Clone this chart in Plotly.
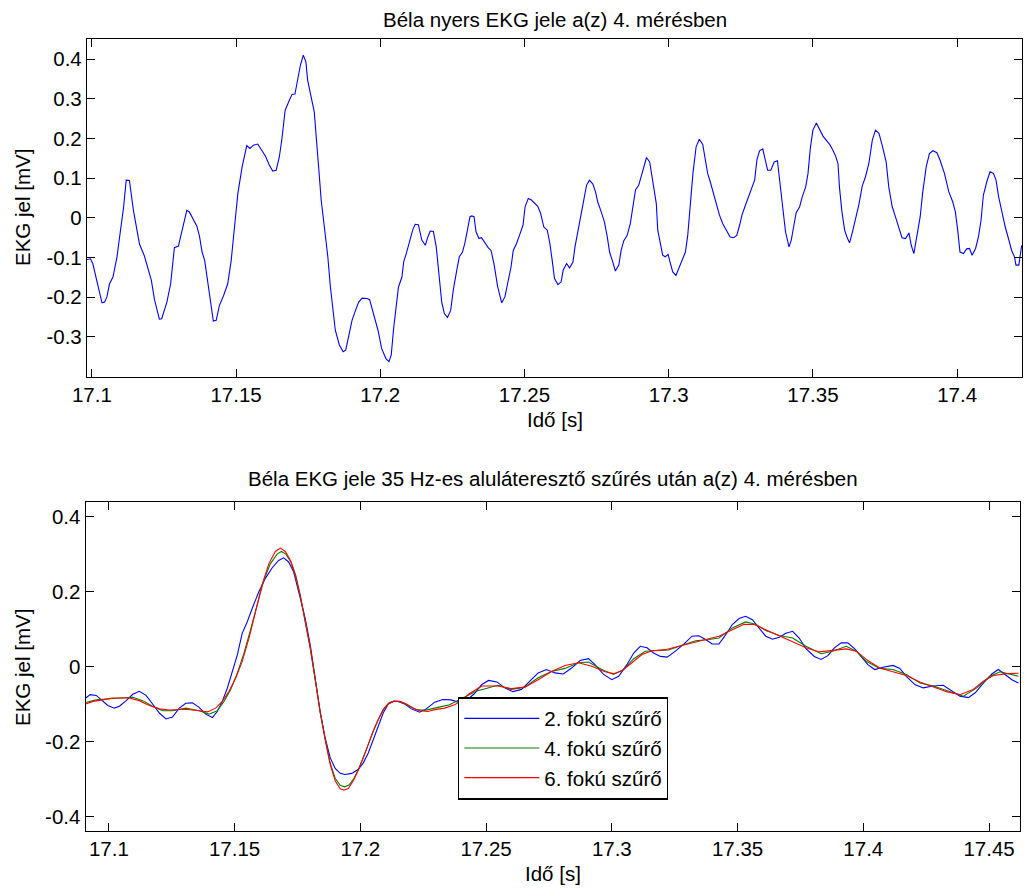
import plotly.graph_objects as go

# ---------------------------------------------------------------------------
# Raw ECG signal of measurement 4 (time [s], amplitude [mV])
# ---------------------------------------------------------------------------
raw_t = [
    17.0983, 17.0995, 17.1003, 17.1017, 17.1035, 17.1044, 17.1052, 17.1061, 17.1073, 17.1087,
    17.1099, 17.1110, 17.1119, 17.1130, 17.1144, 17.1154, 17.1165, 17.1182, 17.1194, 17.1206,
    17.1217, 17.1234, 17.1242, 17.1260, 17.1273, 17.1286, 17.1300, 17.1313, 17.1329, 17.1338,
    17.1350, 17.1364, 17.1373, 17.1382, 17.1391, 17.1405, 17.1421, 17.1431, 17.1442, 17.1457,
    17.1471, 17.1483, 17.1494, 17.1506, 17.1521, 17.1537, 17.1548, 17.1560, 17.1575, 17.1587,
    17.1602, 17.1615, 17.1627, 17.1639, 17.1650, 17.1659, 17.1670, 17.1685, 17.1694, 17.1704,
    17.1714, 17.1723, 17.1733, 17.1742, 17.1748, 17.1760, 17.1771, 17.1787, 17.1795, 17.1806,
    17.1818, 17.1827, 17.1836, 17.1844, 17.1858, 17.1871, 17.1880, 17.1902, 17.1914, 17.1925,
    17.1937, 17.1954, 17.1963, 17.1977, 17.1992, 17.2005, 17.2020, 17.2030, 17.2038, 17.2046,
    17.2055, 17.2063, 17.2075, 17.2081, 17.2090, 17.2104, 17.2113, 17.2121, 17.2132, 17.2144,
    17.2156, 17.2165, 17.2173, 17.2184, 17.2194, 17.2202, 17.2213, 17.2222, 17.2233, 17.2244,
    17.2253, 17.2265, 17.2274, 17.2285, 17.2294, 17.2302, 17.2311, 17.2317, 17.2325, 17.2332,
    17.2342, 17.2351, 17.2363, 17.2374, 17.2384, 17.2394, 17.2407, 17.2421, 17.2432, 17.2444,
    17.2453, 17.2461, 17.2472, 17.2484, 17.2495, 17.2502, 17.2513, 17.2524, 17.2536, 17.2546,
    17.2556, 17.2567, 17.2579, 17.2588, 17.2596, 17.2604, 17.2616, 17.2627, 17.2634, 17.2646,
    17.2656, 17.2668, 17.2675, 17.2686, 17.2698, 17.2708, 17.2715, 17.2725, 17.2737, 17.2746,
    17.2754, 17.2766, 17.2777, 17.2787, 17.2795, 17.2806, 17.2815, 17.2827, 17.2835, 17.2844,
    17.2856, 17.2867, 17.2877, 17.2885, 17.2896, 17.2908, 17.2923, 17.2934, 17.2946, 17.2957,
    17.2962, 17.2971, 17.2979, 17.2988, 17.2998, 17.3006, 17.3014, 17.3025, 17.3035, 17.3046,
    17.3058, 17.3066, 17.3075, 17.3084, 17.3095, 17.3106, 17.3118, 17.3127, 17.3135, 17.3144,
    17.3156, 17.3167, 17.3176, 17.3187, 17.3200, 17.3213, 17.3225, 17.3236, 17.3246, 17.3254,
    17.3265, 17.3277, 17.3288, 17.3298, 17.3306, 17.3315, 17.3326, 17.3334, 17.3343, 17.3354,
    17.3366, 17.3377, 17.3387, 17.3396, 17.3405, 17.3417, 17.3425, 17.3433, 17.3442, 17.3454,
    17.3463, 17.3475, 17.3483, 17.3491, 17.3500, 17.3512, 17.3523, 17.3535, 17.3546, 17.3558,
    17.3569, 17.3579, 17.3587, 17.3592, 17.3600, 17.3610, 17.3618, 17.3627, 17.3636, 17.3648,
    17.3659, 17.3671, 17.3682, 17.3694, 17.3706, 17.3717, 17.3729, 17.3740, 17.3754, 17.3763,
    17.3775, 17.3786, 17.3798, 17.3809, 17.3821, 17.3833, 17.3841, 17.3850, 17.3860, 17.3872,
    17.3881, 17.3893, 17.3904, 17.3916, 17.3930, 17.3941, 17.3956, 17.3971, 17.3985, 17.3994,
    17.4002, 17.4010, 17.4022, 17.4033, 17.4043, 17.4052, 17.4064, 17.4074, 17.4083, 17.4091,
    17.4103, 17.4114, 17.4126, 17.4135, 17.4144, 17.4156, 17.4167, 17.4178, 17.4189, 17.4199,
    17.4204, 17.4214, 17.4219, 17.4224,
]
raw_mv = [
    -0.105, -0.103, -0.115, -0.161, -0.214, -0.212, -0.199, -0.166, -0.149, -0.098,
    -0.035, 0.028, 0.095, 0.094, 0.019, -0.023, -0.066, -0.096, -0.124, -0.157,
    -0.206, -0.255, -0.254, -0.212, -0.166, -0.075, -0.071, -0.031, 0.019, 0.015,
    -0.002, -0.021, -0.046, -0.086, -0.107, -0.174, -0.260, -0.258, -0.221, -0.195,
    -0.166, -0.107, -0.023, 0.061, 0.129, 0.182, 0.175, 0.183, 0.186, 0.172,
    0.155, 0.133, 0.118, 0.120, 0.154, 0.200, 0.271, 0.297, 0.311, 0.312,
    0.355, 0.385, 0.410, 0.393, 0.347, 0.309, 0.267, 0.120, 0.045, -0.023,
    -0.098, -0.174, -0.233, -0.283, -0.320, -0.337, -0.333, -0.258, -0.233, -0.212,
    -0.202, -0.203, -0.206, -0.241, -0.283, -0.330, -0.355, -0.362, -0.345, -0.280,
    -0.216, -0.174, -0.149, -0.111, -0.090, -0.052, -0.029, -0.016, -0.017, -0.056,
    -0.069, -0.048, -0.033, -0.034, -0.073, -0.132, -0.212, -0.241, -0.251, -0.233,
    -0.182, -0.132, -0.098, -0.086, -0.061, -0.031, 0.003, 0.005, 0.003, -0.035,
    -0.052, -0.050, -0.063, -0.075, -0.082, -0.115, -0.174, -0.214, -0.199, -0.153,
    -0.125, -0.082, -0.065, -0.041, -0.018, 0.028, 0.049, 0.045, 0.036, 0.029,
    0.011, -0.023, -0.031, -0.065, -0.107, -0.153, -0.168, -0.161, -0.132, -0.115,
    -0.126, -0.111, -0.073, -0.031, 0.019, 0.061, 0.082, 0.095, 0.085, 0.066,
    0.040, 0.015, -0.010, -0.048, -0.086, -0.111, -0.134, -0.119, -0.082, -0.058,
    -0.044, -0.014, 0.028, 0.071, 0.082, 0.116, 0.152, 0.141, 0.087, 0.036,
    -0.031, -0.065, -0.094, -0.098, -0.092, -0.115, -0.136, -0.145, -0.128, -0.107,
    -0.086, -0.044, 0.036, 0.112, 0.179, 0.198, 0.185, 0.150, 0.112, 0.091,
    0.061, 0.028, 0.007, -0.014, -0.031, -0.048, -0.050, -0.044, -0.018, 0.007,
    0.030, 0.053, 0.071, 0.095, 0.147, 0.169, 0.174, 0.151, 0.120, 0.120,
    0.141, 0.144, 0.078, 0.015, -0.035, -0.073, -0.056, -0.023, 0.013, 0.028,
    0.053, 0.078, 0.112, 0.175, 0.221, 0.239, 0.225, 0.206, 0.196, 0.185,
    0.171, 0.155, 0.137, 0.078, 0.019, -0.031, -0.048, -0.063, -0.039, -0.004,
    0.032, 0.080, 0.103, 0.137, 0.196, 0.221, 0.213, 0.183, 0.141, 0.078,
    0.028, 0.003, -0.027, -0.050, -0.052, -0.038, -0.069, -0.090, -0.048, 0.003,
    0.066, 0.129, 0.162, 0.169, 0.164, 0.145, 0.112, 0.066, 0.040, 0.015,
    -0.031, -0.086, -0.090, -0.078, -0.077, -0.094, -0.077, -0.048, -0.006, 0.057,
    0.091, 0.116, 0.112, 0.095, 0.053, 0.011, -0.023, -0.052, -0.082, -0.098,
    -0.119, -0.119, -0.090, -0.069,
]

# ---------------------------------------------------------------------------
# Signal after the 35 Hz low-pass filters of order 2, 4 and 6
# ---------------------------------------------------------------------------
lp2_t = [
    17.0908, 17.0926, 17.0950, 17.0970, 17.0996, 17.1022, 17.1042, 17.1069, 17.1095, 17.1121,
    17.1148, 17.1174, 17.1201, 17.1227, 17.1253, 17.1280, 17.1306, 17.1332, 17.1359, 17.1385,
    17.1412, 17.1431, 17.1451, 17.1471, 17.1491, 17.1511, 17.1530, 17.1550, 17.1570, 17.1596,
    17.1623, 17.1649, 17.1675, 17.1695, 17.1715, 17.1735, 17.1755, 17.1781, 17.1801, 17.1821,
    17.1840, 17.1860, 17.1880, 17.1900, 17.1920, 17.1939, 17.1966, 17.1992, 17.2012, 17.2032,
    17.2051, 17.2071, 17.2091, 17.2111, 17.2131, 17.2150, 17.2177, 17.2203, 17.2236, 17.2262,
    17.2296, 17.2328, 17.2361, 17.2388, 17.2420, 17.2451, 17.2483, 17.2510, 17.2543, 17.2574,
    17.2607, 17.2641, 17.2674, 17.2707, 17.2740, 17.2774, 17.2807, 17.2840, 17.2874, 17.2907,
    17.2933, 17.2967, 17.3000, 17.3027, 17.3060, 17.3087, 17.3113, 17.3140, 17.3166, 17.3193,
    17.3220, 17.3253, 17.3286, 17.3319, 17.3346, 17.3373, 17.3399, 17.3426, 17.3453, 17.3479,
    17.3506, 17.3532, 17.3559, 17.3586, 17.3612, 17.3639, 17.3666, 17.3692, 17.3719, 17.3745,
    17.3772, 17.3805, 17.3832, 17.3859, 17.3885, 17.3912, 17.3938, 17.3965, 17.3992, 17.4018,
    17.4045, 17.4078, 17.4118, 17.4145, 17.4171, 17.4205, 17.4238, 17.4278, 17.4318, 17.4351,
    17.4384, 17.4418, 17.4445, 17.4477, 17.4511, 17.4537, 17.4564, 17.4591, 17.4617,
]
lp2_mv = [
    -0.083, -0.074, -0.076, -0.088, -0.103, -0.110, -0.105, -0.090, -0.073, -0.065,
    -0.076, -0.099, -0.123, -0.139, -0.134, -0.110, -0.097, -0.096, -0.108, -0.126,
    -0.135, -0.119, -0.092, -0.057, -0.012, 0.032, 0.089, 0.120, 0.156, 0.200,
    0.237, 0.264, 0.284, 0.291, 0.280, 0.253, 0.200, 0.129, 0.058, -0.030,
    -0.119, -0.189, -0.242, -0.271, -0.284, -0.287, -0.284, -0.273, -0.256, -0.229,
    -0.194, -0.158, -0.123, -0.099, -0.092, -0.092, -0.099, -0.112, -0.121, -0.112,
    -0.094, -0.087, -0.088, -0.094, -0.090, -0.073, -0.047, -0.036, -0.040, -0.056,
    -0.066, -0.060, -0.038, -0.016, -0.007, -0.016, -0.019, -0.003, 0.017, 0.022,
    0.006, -0.020, -0.034, -0.025, 0.006, 0.037, 0.055, 0.051, 0.037, 0.028,
    0.026, 0.042, 0.061, 0.082, 0.083, 0.073, 0.061, 0.061, 0.086, 0.113,
    0.129, 0.135, 0.126, 0.104, 0.082, 0.074, 0.079, 0.090, 0.095, 0.077,
    0.049, 0.028, 0.020, 0.030, 0.051, 0.064, 0.064, 0.049, 0.028, 0.006,
    -0.007, -0.001, 0.004, -0.004, -0.025, -0.047, -0.056, -0.051, -0.049, -0.063,
    -0.078, -0.082, -0.069, -0.043, -0.019, -0.007, -0.020, -0.034, -0.043,
]

lp4_t = [
    17.0908, 17.0950, 17.1003, 17.1042, 17.1095, 17.1135, 17.1174, 17.1214, 17.1253, 17.1306,
    17.1359, 17.1398, 17.1431, 17.1458, 17.1484, 17.1511, 17.1537, 17.1563, 17.1590, 17.1616,
    17.1642, 17.1669, 17.1686, 17.1704, 17.1726, 17.1744, 17.1761, 17.1781, 17.1801, 17.1821,
    17.1840, 17.1860, 17.1880, 17.1900, 17.1920, 17.1937, 17.1955, 17.1975, 17.1995, 17.2016,
    17.2036, 17.2055, 17.2075, 17.2095, 17.2115, 17.2137, 17.2164, 17.2190, 17.2223, 17.2256,
    17.2289, 17.2322, 17.2355, 17.2388, 17.2427, 17.2460, 17.2547, 17.2601, 17.2654, 17.2707,
    17.2760, 17.2814, 17.2867, 17.2907, 17.2960, 17.3007, 17.3047, 17.3087, 17.3133, 17.3186,
    17.3226, 17.3280, 17.3333, 17.3386, 17.3426, 17.3479, 17.3532, 17.3572, 17.3612, 17.3666,
    17.3719, 17.3772, 17.3832, 17.3878, 17.3932, 17.3972, 17.4012, 17.4065, 17.4118, 17.4171,
    17.4225, 17.4278, 17.4331, 17.4398, 17.4451, 17.4504, 17.4544, 17.4584, 17.4617,
]
lp4_mv = [
    -0.095, -0.088, -0.085, -0.083, -0.081, -0.090, -0.105, -0.117, -0.117, -0.110,
    -0.117, -0.126, -0.117, -0.092, -0.061, -0.017, 0.036, 0.098, 0.169, 0.231,
    0.275, 0.301, 0.308, 0.301, 0.278, 0.243, 0.191, 0.125, 0.050, -0.035,
    -0.119, -0.191, -0.256, -0.297, -0.316, -0.320, -0.315, -0.297, -0.269, -0.234,
    -0.198, -0.165, -0.135, -0.110, -0.095, -0.091, -0.094, -0.103, -0.114, -0.116,
    -0.110, -0.106, -0.101, -0.090, -0.076, -0.065, -0.049, -0.060, -0.054, -0.029,
    -0.012, -0.004, 0.011, 0.013, -0.007, -0.020, -0.007, 0.022, 0.042, 0.043,
    0.045, 0.058, 0.070, 0.073, 0.077, 0.104, 0.120, 0.114, 0.097, 0.084,
    0.077, 0.055, 0.035, 0.042, 0.055, 0.042, 0.015, -0.004, -0.007, -0.020,
    -0.043, -0.051, -0.063, -0.078, -0.056, -0.025, -0.013, -0.020, -0.025,
]

lp6_t = [
    17.0908, 17.0937, 17.0976, 17.1016, 17.1082, 17.1121, 17.1161, 17.1201, 17.1240, 17.1306,
    17.1359, 17.1392, 17.1425, 17.1451, 17.1478, 17.1504, 17.1530, 17.1557, 17.1583, 17.1609,
    17.1636, 17.1662, 17.1682, 17.1702, 17.1722, 17.1741, 17.1761, 17.1781, 17.1801, 17.1821,
    17.1840, 17.1860, 17.1880, 17.1900, 17.1920, 17.1935, 17.1953, 17.1972, 17.1992, 17.2012,
    17.2032, 17.2051, 17.2071, 17.2091, 17.2111, 17.2131, 17.2157, 17.2183, 17.2210, 17.2236,
    17.2269, 17.2296, 17.2335, 17.2375, 17.2408, 17.2430, 17.2483, 17.2547, 17.2601, 17.2654,
    17.2707, 17.2760, 17.2814, 17.2867, 17.2920, 17.2973, 17.3007, 17.3040, 17.3080, 17.3120,
    17.3160, 17.3213, 17.3266, 17.3319, 17.3373, 17.3426, 17.3479, 17.3526, 17.3566, 17.3612,
    17.3666, 17.3719, 17.3772, 17.3825, 17.3878, 17.3932, 17.3972, 17.4012, 17.4065, 17.4118,
    17.4171, 17.4225, 17.4278, 17.4331, 17.4384, 17.4437, 17.4477, 17.4517, 17.4571, 17.4617,
]
lp6_mv = [
    -0.099, -0.092, -0.088, -0.083, -0.083, -0.090, -0.103, -0.112, -0.115, -0.113,
    -0.117, -0.120, -0.110, -0.092, -0.065, -0.030, 0.014, 0.076, 0.147, 0.218,
    0.275, 0.308, 0.317, 0.308, 0.284, 0.244, 0.191, 0.125, 0.050, -0.035,
    -0.119, -0.194, -0.260, -0.304, -0.325, -0.329, -0.324, -0.304, -0.276, -0.242,
    -0.205, -0.172, -0.141, -0.114, -0.099, -0.092, -0.092, -0.099, -0.110, -0.117,
    -0.119, -0.114, -0.110, -0.101, -0.088, -0.073, -0.051, -0.051, -0.058, -0.054,
    -0.034, -0.012, 0.004, 0.011, 0.002, -0.013, -0.018, -0.010, 0.011, 0.033,
    0.043, 0.046, 0.055, 0.064, 0.073, 0.082, 0.099, 0.114, 0.113, 0.099,
    0.084, 0.068, 0.051, 0.040, 0.043, 0.048, 0.042, 0.020, -0.003, -0.014,
    -0.023, -0.040, -0.054, -0.066, -0.074, -0.060, -0.038, -0.023, -0.018, -0.017,
]

# Tick labels
top_xticks = [17.1, 17.15, 17.2, 17.25, 17.3, 17.35, 17.4]
top_xlabels = ["17.1", "17.15", "17.2", "17.25", "17.3", "17.35", "17.4"]
top_yticks = [-0.3, -0.2, -0.1, 0.0, 0.1, 0.2, 0.3, 0.4]
top_ylabels = ["-0.3", "-0.2", "-0.1", "0", "0.1", "0.2", "0.3", "0.4"]
bot_xticks = [17.1, 17.15, 17.2, 17.25, 17.3, 17.35, 17.4, 17.45]
bot_xlabels = ["17.1", "17.15", "17.2", "17.25", "17.3", "17.35", "17.4", "17.45"]
bot_yticks = [-0.4, -0.2, 0.0, 0.2, 0.4]
bot_ylabels = ["-0.4", "-0.2", "0", "0.2", "0.4"]

series_names = ["2. fokú szűrő", "4. fokú szűrő", "6. fokú szűrő"]
series_colors = ["#0000ff", "#008000", "#ff0000"]

W, H = 1027, 890
FONT = "Liberation Sans, Arial, Helvetica, sans-serif"
FS = 20.5


def px_x(p):
    return p / W


def px_y(p):
    return 1 - p / H


fig = go.Figure()

fig.add_trace(go.Scatter(
    x=raw_t, y=raw_mv, mode="lines", xaxis="x", yaxis="y",
    line=dict(color="#0000ff", width=1.1), showlegend=False, hoverinfo="skip",
))

for t, v, name, col in zip([lp2_t, lp4_t, lp6_t], [lp2_mv, lp4_mv, lp6_mv],
                           series_names, series_colors):
    fig.add_trace(go.Scatter(
        x=t, y=v, mode="lines", xaxis="x2", yaxis="y2", name=name,
        line=dict(color=col, width=1.1), hoverinfo="skip",
    ))

axis_style = dict(
    showline=True, linecolor="black", linewidth=1.3, mirror="ticks",
    ticks="inside", ticklen=8, tickwidth=1, tickcolor="black",
    showgrid=False, zeroline=False,
    tickfont=dict(family=FONT, size=FS, color="black"),
    automargin=False,
)

fig.update_layout(
    width=W, height=H,
    margin=dict(l=0, r=0, t=0, b=0),
    paper_bgcolor="white", plot_bgcolor="white",
    font=dict(family=FONT, size=FS, color="black"),
    xaxis=dict(domain=[px_x(87), px_x(1022)], range=[17.0983, 17.4225],
               tickmode="array", tickvals=top_xticks, ticktext=top_xlabels,
               anchor="y", **axis_style),
    yaxis=dict(domain=[px_y(376.7), px_y(39.2)], range=[-0.4, 0.45],
               tickmode="array", tickvals=top_yticks, ticktext=top_ylabels,
               anchor="x", **axis_style),
    xaxis2=dict(domain=[px_x(85.7), px_x(1020)], range=[17.0908, 17.4623],
                tickmode="array", tickvals=bot_xticks, ticktext=bot_xlabels,
                anchor="y2", **axis_style),
    yaxis2=dict(domain=[px_y(830.7), px_y(502)], range=[-0.437, 0.44],
                tickmode="array", tickvals=bot_yticks, ticktext=bot_ylabels,
                anchor="x2", **axis_style),
    legend=dict(
        x=px_x(457.5), y=px_y(696.7), xanchor="left", yanchor="top",
        bgcolor="white", bordercolor="black", borderwidth=1.8,
        font=dict(family=FONT, size=FS, color="black"),
        itemwidth=75, tracegroupgap=0,
    ),
)

texts = [
    ("Béla nyers EKG jele a(z) 4. mérésben", 554.5, 19.5, 0),
    ("Idő [s]", 554.5, 419, 0),
    ("EKG jel [mV]", 22, 208, -90),
    ("Béla EKG jele 35 Hz-es aluláteresztő szűrés után a(z) 4. mérésben", 553, 478.5, 0),
    ("Idő [s]", 553, 873, 0),
    ("EKG jel [mV]", 22, 668, -90),
]
for txt, x, y, ang in texts:
    fig.add_annotation(
        text=txt, x=px_x(x), y=px_y(y), xref="paper", yref="paper",
        xanchor="center", yanchor="middle", showarrow=False, textangle=ang,
        font=dict(family=FONT, size=FS, color="black"),
    )

fig.write_html("out.html")
